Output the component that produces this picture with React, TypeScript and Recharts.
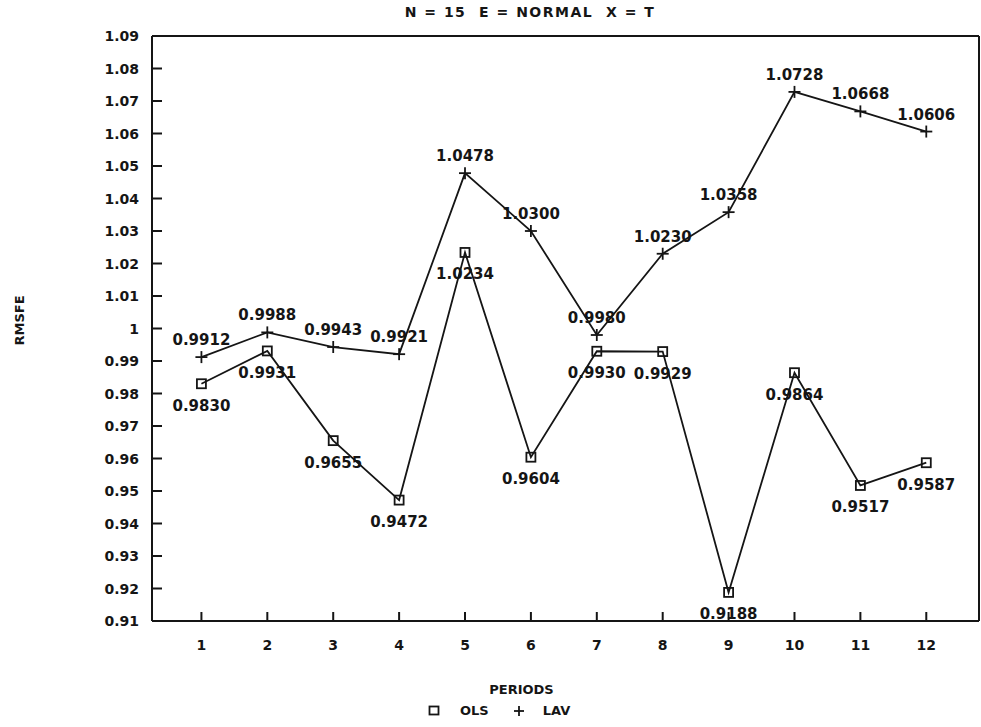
import { LineChart, Line, XAxis, YAxis, ReferenceLine, LabelList, Legend } from "recharts"

// forecast periods and RMSFE per estimator
const periods = [1, 2, 3, 4, 5, 6, 7, 8, 9, 10, 11, 12]
const olsValues = [0.983, 0.9931, 0.9655, 0.9472, 1.0234, 0.9604, 0.993, 0.9929, 0.9188, 0.9864, 0.9517, 0.9587]
const lavValues = [0.9912, 0.9988, 0.9943, 0.9921, 1.0478, 1.03, 0.998, 1.023, 1.0358, 1.0728, 1.0668, 1.0606]
const yTicks = [0.91, 0.92, 0.93, 0.94, 0.95, 0.96, 0.97, 0.98, 0.99, 1, 1.01, 1.02, 1.03, 1.04, 1.05, 1.06, 1.07, 1.08, 1.09]
const title = "N = 15  E = NORMAL  X = T"

const data = periods.map((period, i) => ({ period, ols: olsValues[i], lav: lavValues[i] }))

const INK = "#151515"
const FONT = "'DejaVu Sans', sans-serif"

const fmtY = (v: number) => (v === 1 ? "1" : v.toFixed(2))

function YTick(props: any) {
  const { x, y, payload } = props
  return (
    <g>
      <line x1={x} y1={y} x2={x + 10} y2={y} stroke={INK} strokeWidth={2} />
      <text x={x - 13} y={y + 5} textAnchor="end" fontFamily={FONT} fontWeight="bold" fontSize={14} fill={INK}>
        {fmtY(payload.value)}
      </text>
    </g>
  )
}

function XTick(props: any) {
  const { x, y, payload } = props
  return (
    <g>
      <line x1={x} y1={y} x2={x} y2={y - 9} stroke={INK} strokeWidth={2} />
      <text x={x} y={y + 29} textAnchor="middle" fontFamily={FONT} fontWeight="bold" fontSize={14} fill={INK}>
        {payload.value}
      </text>
    </g>
  )
}

function SquareDot(props: any) {
  const { cx, cy, index } = props
  return <rect key={index} x={cx - 4.5} y={cy - 4.5} width={9} height={9} fill="none" stroke={INK} strokeWidth={1.8} />
}

function PlusDot(props: any) {
  const { cx, cy, index } = props
  return (
    <g key={index}>
      <line x1={cx - 6} y1={cy} x2={cx + 6} y2={cy} stroke={INK} strokeWidth={1.8} />
      <line x1={cx} y1={cy - 6} x2={cx} y2={cy + 6} stroke={INK} strokeWidth={1.8} />
    </g>
  )
}

function valueLabel(dy: number) {
  return (props: any) => {
    const { x, y, value, index } = props
    return (
      <text key={index} x={x} y={y + dy} textAnchor="middle" fontFamily={FONT} fontWeight="bold" fontSize={15} fill={INK}>
        {Number(value).toFixed(4)}
      </text>
    )
  }
}

function LegendContent() {
  return (
    <div style={{ display: "flex", alignItems: "center", fontFamily: FONT, fontWeight: "bold", fontSize: 13, color: INK }}>
      <svg width={12} height={12}>
        <rect x={1.5} y={1.5} width={9} height={8} fill="none" stroke={INK} strokeWidth={1.8} />
      </svg>
      <span style={{ marginLeft: 20 }}>OLS</span>
      <svg width={12} height={12} style={{ marginLeft: 24 }}>
        <line x1={1} y1={6} x2={11} y2={6} stroke={INK} strokeWidth={1.8} />
        <line x1={6} y1={1} x2={6} y2={11} stroke={INK} strokeWidth={1.8} />
      </svg>
      <span style={{ marginLeft: 18 }}>LAV</span>
    </div>
  )
}

export default function App() {
  return (
    <div style={{ position: "absolute", left: 0, top: 0, width: 981, height: 727, background: "#fff" }}>
      <div
        style={{
          position: "absolute",
          left: 0,
          width: 1060,
          top: 4,
          textAlign: "center",
          fontFamily: FONT,
          fontWeight: "bold",
          fontSize: 14,
          letterSpacing: 1.5,
          whiteSpace: "pre",
          color: INK,
        }}
      >
        {title}
      </div>
      <LineChart width={981} height={727} data={data} margin={{ top: 36, right: 2, bottom: 0, left: 0 }}>
        <XAxis
          dataKey="period"
          type="number"
          domain={[0.25, 12.8]}
          ticks={periods}
          allowDataOverflow
          height={106}
          tickSize={0}
          tickMargin={0}
          tick={<XTick />}
          axisLine={{ stroke: INK, strokeWidth: 2 }}
          label={{
            content: (p: any) => (
              <text
                x={p.viewBox.x + p.viewBox.width / 2 - 44}
                y={p.viewBox.y + 73}
                textAnchor="middle"
                fontFamily={FONT}
                fontWeight="bold"
                fontSize={13}
                fill={INK}
              >
                PERIODS
              </text>
            ),
          }}
        />
        <YAxis
          type="number"
          domain={[0.91, 1.09]}
          ticks={yTicks}
          allowDataOverflow
          width={152}
          tickSize={0}
          tickMargin={0}
          tick={<YTick />}
          axisLine={{ stroke: INK, strokeWidth: 2 }}
          label={{
            content: (p: any) => {
              const cx = p.viewBox.x + 20
              const cy = p.viewBox.y + p.viewBox.height / 2 - 8
              return (
                <text
                  x={cx}
                  y={cy}
                  transform={`rotate(-90 ${cx} ${cy})`}
                  textAnchor="middle"
                  dominantBaseline="middle"
                  fontFamily={FONT}
                  fontWeight="bold"
                  fontSize={13}
                  fill={INK}
                >
                  RMSFE
                </text>
              )
            },
          }}
        />
        <ReferenceLine y={1.09} stroke={INK} strokeWidth={2} />
        <ReferenceLine x={12.8} stroke={INK} strokeWidth={2} />
        <Legend
          layout="horizontal"
          verticalAlign="middle"
          align="center"
          wrapperStyle={{ top: 703, left: 428, width: "auto" }}
          content={<LegendContent />}
        />
        <Line
          dataKey="ols"
          name="OLS"
          stroke={INK}
          strokeWidth={1.8}
          dot={<SquareDot />}
          activeDot={false}
          isAnimationActive={false}
        >
          <LabelList dataKey="ols" content={valueLabel(27)} />
        </Line>
        <Line
          dataKey="lav"
          name="LAV"
          stroke={INK}
          strokeWidth={1.8}
          dot={<PlusDot />}
          activeDot={false}
          isAnimationActive={false}
        >
          <LabelList dataKey="lav" content={valueLabel(-12)} />
        </Line>
      </LineChart>
    </div>
  )
}
